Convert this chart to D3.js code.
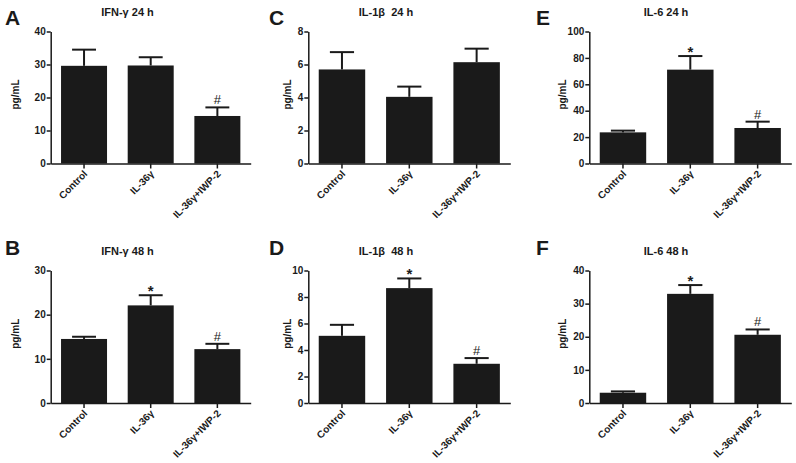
<!DOCTYPE html>
<html><head><meta charset="utf-8">
<script src="https://cdn.jsdelivr.net/npm/d3@7"></script>
<style>
body{margin:0;background:#fff;}
svg{display:block;font-family:"Liberation Sans",Arial,sans-serif;}
</style></head>
<body>
<svg id="chart" width="796" height="463"></svg>
<script>
const categories = ["Control", "IL-36γ", "IL-36γ+IWP-2"];

const ifn24Mean = [29.6, 29.7, 14.4];
const ifn24Sem  = [4.9, 2.5, 2.6];
const ifn48Mean = [14.5, 22.1, 12.2];
const ifn48Sem  = [0.5, 2.3, 1.2];
const il1b24Mean = [5.7, 4.04, 6.14];
const il1b24Sem  = [1.05, 0.62, 0.82];
const il1b48Mean = [5.07, 8.67, 2.96];
const il1b48Sem  = [0.83, 0.73, 0.43];
const il6_24Mean = [23.6, 71.1, 26.9];
const il6_24Sem  = [1.3, 10.3, 4.8];
const il6_48Mean = [3.1, 32.95, 20.6];
const il6_48Sem  = [0.4, 2.65, 1.6];

const sigNone = ["", "", ""];
const sigHashOnly = ["", "", "#"];
const sigBoth = ["", "*", "#"];

const panelLetters = ["A", "B", "C", "D", "E", "F"];
const panelTitles = ["IFN-γ 24 h", "IFN-γ 48 h", "IL-1β  24 h", "IL-1β  48 h", "IL-6 24 h", "IL-6 48 h"];
const yMaxes = [40, 30, 8, 10, 100, 40];
const yTickSteps = [10, 10, 2, 2, 20, 10];
const yLabel = "pg/mL";

const panels = [
  {means: ifn24Mean, sems: ifn24Sem, sig: sigHashOnly},
  {means: ifn48Mean, sems: ifn48Sem, sig: sigBoth},
  {means: il1b24Mean, sems: il1b24Sem, sig: sigNone},
  {means: il1b48Mean, sems: il1b48Sem, sig: sigBoth},
  {means: il6_24Mean, sems: il6_24Sem, sig: sigBoth},
  {means: il6_48Mean, sems: il6_48Sem, sig: sigBoth}
].map((p, i) => Object.assign(p, {letter: panelLetters[i], title: panelTitles[i], ymax: yMaxes[i], step: yTickSteps[i]}));

// layout (positions only)
const colAxisX = [50.7, 308.3, 589.3];
const colWidth = [200, 202, 202];
const colTitleX = [127.5, 386, 666];
const colLetterX = [5, 269, 536];
const colYLabelX = [15, 287, 562];
const rowTop = [31.5, 270.5];
const rowBottom = [163.5, 403];
const rowTitleY = [15.5, 255];
const rowLetterY = [25, 255];

const svg = d3.select("#chart");
const ink = "#1a1a1a";

panels.forEach((p, i) => {
  const col = Math.floor(i / 2), row = i % 2;
  const x0 = colAxisX[col], x1 = x0 + colWidth[col];
  const yTop = rowTop[row], yBot = rowBottom[row];
  const g = svg.append("g");

  const x = d3.scaleBand().domain(categories).range([x0, x1]).paddingInner(0.31).paddingOuter(0.155);
  const y = d3.scaleLinear().domain([0, p.ymax]).range([yBot, yTop]);
  const ticks = d3.range(0, p.ymax + p.step / 2, p.step);

  const data = categories.map((c, k) => ({c, m: p.means[k], s: p.sems[k], sig: p.sig[k]}));
  const capW = x.bandwidth() * 0.52;
  const cx = d => x(d.c) + x.bandwidth() / 2;
  g.selectAll("line.err").data(data).join("line")
    .attr("x1", cx).attr("x2", cx)
    .attr("y1", d => y(d.m)).attr("y2", d => y(d.m + d.s))
    .attr("stroke", ink).attr("stroke-width", 2);
  g.selectAll("line.cap").data(data).join("line")
    .attr("x1", d => cx(d) - capW / 2).attr("x2", d => cx(d) + capW / 2)
    .attr("y1", d => y(d.m + d.s)).attr("y2", d => y(d.m + d.s))
    .attr("stroke", ink).attr("stroke-width", 2);
  g.selectAll("rect").data(data).join("rect")
    .attr("x", d => x(d.c)).attr("width", x.bandwidth())
    .attr("y", d => y(d.m)).attr("height", d => y(0) - y(d.m))
    .attr("fill", ink);

  // significance marks
  g.selectAll("text.sig").data(data.filter(d => d.sig)).join("text")
    .attr("x", cx)
    .attr("y", d => y(d.m + d.s) + (d.sig === "*" ? 1 : -3))
    .attr("text-anchor", "middle")
    .attr("font-size", d => d.sig === "*" ? 15 : 13)
    .attr("font-weight", d => d.sig === "*" ? "bold" : "normal")
    .attr("fill", ink)
    .text(d => d.sig);

  // y axis
  const yAxis = d3.axisLeft(y).tickValues(ticks).tickSize(4).tickSizeOuter(0).tickPadding(1).tickFormat(d3.format("d"));
  const ya = g.append("g").attr("transform", `translate(${x0},0)`).call(yAxis);
  ya.select(".domain").attr("stroke", ink).attr("stroke-width", 1.5);
  ya.selectAll(".tick line").attr("stroke", ink).attr("stroke-width", 1.5);
  ya.selectAll(".tick text").attr("font-size", 10).attr("font-weight", "bold").attr("fill", ink)
    .attr("font-family", "Liberation Sans, Arial, sans-serif");

  // x axis
  const xAxis = d3.axisBottom(x).tickSize(5).tickSizeOuter(0);
  const xa = g.append("g").attr("transform", `translate(0,${yBot})`).call(xAxis);
  xa.select(".domain").attr("stroke", ink).attr("stroke-width", 1.5);
  xa.selectAll(".tick line").attr("stroke", ink).attr("stroke-width", 1.5);
  xa.selectAll(".tick text")
    .attr("font-size", 10).attr("font-weight", "bold").attr("fill", ink)
    .attr("font-family", "Liberation Sans, Arial, sans-serif")
    .attr("text-anchor", "end").attr("dy", null).attr("y", 0)
    .attr("transform", "translate(4,11) rotate(-45)");

  // y label
  g.append("text")
    .attr("transform", `translate(${colYLabelX[col] + 4},${(yTop + yBot) / 2 - 3}) rotate(-90)`)
    .attr("text-anchor", "middle").attr("font-size", 10).attr("font-weight", "bold").attr("fill", ink)
    .text(yLabel);

  // title
  g.append("text").attr("x", colTitleX[col]).attr("y", rowTitleY[row])
    .attr("text-anchor", "middle").attr("font-size", 11).attr("font-weight", "bold").attr("fill", ink)
    .style("white-space", "pre")
    .text(p.title);

  // panel letter
  g.append("text").attr("x", colLetterX[col]).attr("y", rowLetterY[row])
    .attr("font-size", 21).attr("font-weight", "bold").attr("fill", ink)
    .text(p.letter);
});
</script>
</body></html>
